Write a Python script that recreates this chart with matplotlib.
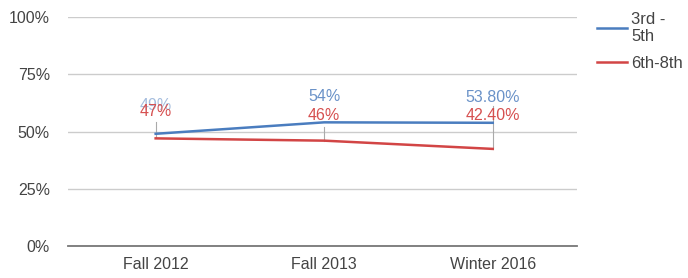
import matplotlib.pyplot as plt

plt.rcParams['font.family'] = ['Liberation Sans', 'DejaVu Sans']

periods = ['Fall 2012', 'Fall 2013', 'Winter 2016']
grades_3_5 = [49, 54, 53.8]
grades_6_8 = [47, 46, 42.4]
labels_3_5 = ['49%', '54%', '53.80%']
labels_6_8 = ['47%', '46%', '42.40%']

blue = '#4a7dbf'
red = '#d24545'
blue_txt = '#6a92c8'
red_txt = '#d65050'

fig = plt.figure(figsize=(6.88, 2.78), dpi=100)
ax = fig.add_axes([68 / 688, 1 - 246 / 278, 509 / 688, 229 / 278])

x = list(range(len(periods)))
ax.plot(x, grades_3_5, color=blue, lw=1.8, label='3rd -\n5th', zorder=3)
ax.plot(x, grades_6_8, color=red, lw=1.8, label='6th-8th', zorder=3)

# leader lines + value labels (offsets in points)
blue_off = [15, 13, 13]
red_off = [14, 13, 19]
leader_top = [54, 52, 61]
for i in x:
    ax.plot([i, i], [min(grades_3_5[i], grades_6_8[i]), leader_top[i]],
            color='#aaaaaa', lw=0.8, zorder=2)
    ax.annotate(labels_3_5[i], (i, grades_3_5[i]), xytext=(0, blue_off[i]),
                textcoords='offset points', ha='center', va='bottom',
                color=blue_txt, fontsize=11.5, alpha=0.6 if i == 0 else 1)
    ax.annotate(labels_6_8[i], (i, grades_6_8[i]), xytext=(0, red_off[i]),
                textcoords='offset points', ha='center', va='bottom',
                color=red_txt, fontsize=11.5)

ax.set_xlim(-0.52, 2.5)
ax.set_ylim(0, 100)
ax.set_yticks([0, 25, 50, 75, 100])
ax.set_yticklabels(['0%', '25%', '50%', '75%', '100%'])
ax.set_xticks(x)
ax.set_xticklabels(periods)
ax.grid(axis='y', color='#cccccc', lw=1)
ax.set_axisbelow(True)
for s in ['top', 'right', 'left']:
    ax.spines[s].set_visible(False)
ax.spines['bottom'].set_color('#777777')
ax.spines['bottom'].set_linewidth(1.3)
ax.tick_params(axis='both', length=0, colors='#444444', labelsize=11.5)
ax.tick_params(axis='y', pad=13)
ax.tick_params(axis='x', pad=8)

fig.legend(loc='upper left', bbox_to_anchor=(597 / 688, 1 - 12 / 278),
           bbox_transform=fig.transFigure, frameon=False, fontsize=12,
           borderpad=0, borderaxespad=0, handlelength=1.8, handletextpad=0.25,
           labelspacing=0.7, labelcolor='#444444')

fig.savefig('out.png', dpi=100)
